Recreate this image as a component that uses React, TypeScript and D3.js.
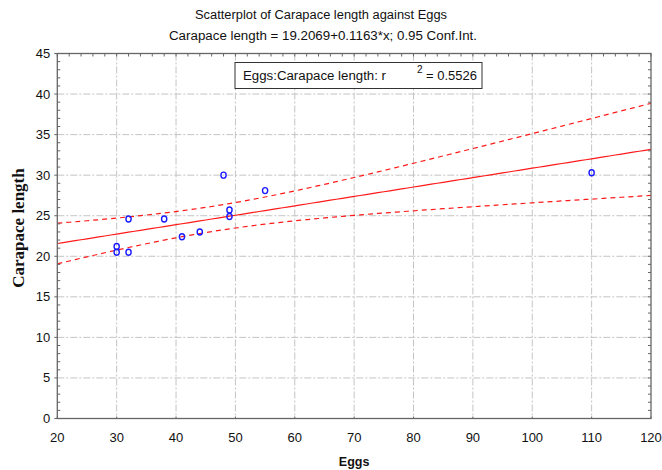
import React from "react";
import * as d3 from "d3";

const eggs = [30, 30, 32, 32, 38, 41, 44, 48, 49, 49, 55, 110];
const carapace = [21.2, 20.5, 24.6, 20.5, 24.6, 22.4, 23.0, 30.0, 25.7, 24.9, 28.1, 30.3];
const xTicks = [20, 30, 40, 50, 60, 70, 80, 90, 100, 110, 120];
const yTicks = [0, 5, 10, 15, 20, 25, 30, 35, 40, 45];

const W = 662, H = 470;
const L = 57.3, R = 651, T = 53.5, B = 418.5;
const FONT = "'Liberation Sans', Arial, sans-serif";

export default function App() {
  const x = d3.scaleLinear().domain([20, 120]).range([L, R]);
  const y = d3.scaleLinear().domain([0, 45]).range([B, T]);

  const n = eggs.length;
  const mx = d3.mean(eggs)!;
  const my = d3.mean(carapace)!;
  const sxx = d3.sum(eggs, (v) => (v - mx) ** 2);
  const sxy = d3.sum(eggs, (v, i) => (v - mx) * (carapace[i] - my));
  const b = sxy / sxx;
  const a = my - b * mx;
  const sse = d3.sum(eggs, (v, i) => (carapace[i] - (a + b * v)) ** 2);
  const s = Math.sqrt(sse / (n - 2));
  const t = 2.228;
  const xs = d3.range(0, 101).map((i) => 20 + i);
  const half = (v: number) => t * s * Math.sqrt(1 / n + (v - mx) ** 2 / sxx);
  const line = d3.line<number[]>().x((d) => x(d[0])).y((d) => y(d[1]));
  const fit = line(xs.map((v) => [v, a + b * v]))!;
  const up = line(xs.map((v) => [v, a + b * v + half(v)]))!;
  const lo = line(xs.map((v) => [v, a + b * v - half(v)]))!;

  const yMinor = d3.range(0, 46);
  const xMinor = d3.range(20, 121, 2);

  return (
    <svg width={W} height={H} style={{ position: "absolute", left: 0, top: 0, background: "#fff" }}>
      <rect x={0} y={0} width={W} height={H} fill="#fff" />
      <text x={195} y={18.5} textLength={252} lengthAdjust="spacingAndGlyphs" fontFamily={FONT} fontSize={12.5} fill="#111">
        Scatterplot of Carapace length against Eggs
      </text>
      <text x={169} y={39.5} textLength={308} lengthAdjust="spacingAndGlyphs" fontFamily={FONT} fontSize={12.5} fill="#111">
        Carapace length = 19.2069+0.1163*x; 0.95 Conf.Int.
      </text>

      {/* grid */}
      <g stroke="#c4c4c4" strokeWidth={1} strokeDasharray="7,2,2,2">
        {xTicks.slice(1, -1).map((v) => (
          <line key={"gx" + v} x1={x(v)} x2={x(v)} y1={T} y2={B} />
        ))}
        {yTicks.slice(1, -1).map((v) => (
          <line key={"gy" + v} x1={L} x2={R} y1={y(v)} y2={y(v)} />
        ))}
      </g>

      <defs>
        <clipPath id="clip">
          <rect x={L} y={T} width={R - L} height={B - T} />
        </clipPath>
      </defs>
      {/* regression & CI */}
      <g clipPath="url(#clip)">
        <path d={fit} fill="none" stroke="#ff1a1a" strokeWidth={1.2} />
        <path d={up} fill="none" stroke="#ff1a1a" strokeWidth={1.2} strokeDasharray="5,4" />
        <path d={lo} fill="none" stroke="#ff1a1a" strokeWidth={1.2} strokeDasharray="5,4" />
      </g>

      {/* points */}
      <g fill="none" stroke="#1a1aff" strokeWidth={1.4}>
        {eggs.map((v, i) => (
          <ellipse key={"p" + i} cx={x(v)} cy={y(carapace[i])} rx={2.6} ry={3} />
        ))}
      </g>

      {/* frame */}
      <rect x={L} y={T} width={R - L} height={B - T} fill="none" stroke="#666" strokeWidth={1.3} />

      {/* ticks */}
      <g stroke="#666" strokeWidth={1}>
        {yMinor.map((v) => (
          <line key={"ly" + v} x1={L} x2={L + (v % 5 === 0 ? 0 : 3)} y1={y(v)} y2={y(v)} />
        ))}
        {yMinor.map((v) => (
          <line key={"ry" + v} x1={R} x2={R - 3} y1={y(v)} y2={y(v)} />
        ))}
        {yTicks.map((v) => (
          <line key={"my" + v} x1={L - 3} x2={L} y1={y(v)} y2={y(v)} />
        ))}
        {xMinor.map((v) => (
          <line key={"tx" + v} x1={x(v)} x2={x(v)} y1={T} y2={T + 3} />
        ))}
        {xTicks.map((v) => (
          <line key={"bx" + v} x1={x(v)} x2={x(v)} y1={B} y2={B - 2} />
        ))}
      </g>

      {/* tick labels */}
      <g fontFamily={FONT} fontSize={13} fill="#111">
        {yTicks.map((v) => (
          <text key={"yl" + v} x={L - 7} y={y(v) + 4.5} textAnchor="end">
            {v}
          </text>
        ))}
        {xTicks.map((v) => (
          <text key={"xl" + v} x={x(v)} y={441.5} textAnchor="middle">
            {v}
          </text>
        ))}
      </g>

      <text x={(L + R) / 2} y={466} textAnchor="middle" fontFamily={FONT} fontWeight="bold" fontSize={12.5} fill="#111">
        Eggs
      </text>
      <text
        transform={`translate(24,228) rotate(-90)`}
        textAnchor="middle"
        fontFamily="'Liberation Serif', 'Times New Roman', serif"
        fontWeight="bold"
        fontSize={17}
        fill="#111"
      >
        Carapace length
      </text>

      {/* legend */}
      <rect x={235} y={62.5} width={247} height={26} fill="#fff" stroke="#333" strokeWidth={1} />
      <text x={243} y={80} textLength={143} lengthAdjust="spacingAndGlyphs" fontFamily={FONT} fontSize={12.5} fill="#111">
        Eggs:Carapace length:  r
      </text>
      <text x={417} y={72.5} fontFamily={FONT} fontSize={10} fill="#111">
        2
      </text>
      <text x={426} y={80} textLength={51} lengthAdjust="spacingAndGlyphs" fontFamily={FONT} fontSize={12.5} fill="#111">
        = 0.5526
      </text>
    </svg>
  );
}
